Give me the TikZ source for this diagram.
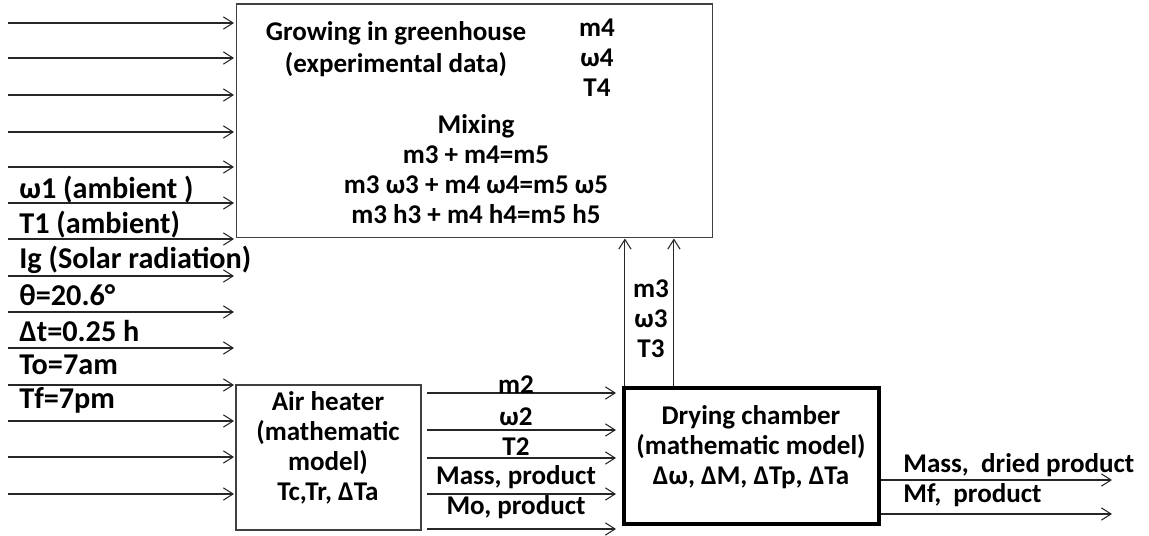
\documentclass[tikz,border=0pt]{standalone}
\usepackage{fontspec}
\setmainfont{Carlito}
\usetikzlibrary{arrows.meta}
\usetikzlibrary{positioning}

\tikzset{
  block/.style={draw=black!75, line width=0.6pt, inner sep=0pt},
  flow/.style={draw=black!85, line width=0.6pt, -{Straight Barb[length=5.5pt,width=7pt]}},
  txt/.style={inner sep=0pt, align=center, font=\fontsize{15.4}{17.2}\selectfont\bfseries},
  sidetxt/.style={inner sep=0pt, anchor=west, font=\fontsize{17.2}{20}\selectfont\bfseries},
}

\begin{document}
\begin{tikzpicture}[x=0.02cm, y=-0.02cm]
  \useasboundingbox (0,0) rectangle (1149,536);
  % blocks
  \node[block, minimum width=9.54cm, minimum height=4.68cm] (gh) at (474.5,121) {};
  \node[block, minimum width=3.7cm, minimum height=2.9cm] (heat) at (328.5,457.5) {};
  \node[block, draw=black, line width=2.4pt, minimum width=5.1cm, minimum height=2.72cm] (dry) at (751.5,456) {};

  % greenhouse texts
  \node[txt, font=\fontsize{15.4}{18.2}\selectfont\bfseries] (ghname) at (396,49) {Growing in greenhouse\\(experimental data)};
  \node[txt] (ghout) at (597,58) {m4\\ω4\\T4};
  \node[txt] (mix) at (476,169) {Mixing\\m3 + m4=m5\\m3 ω3 + m4 ω4=m5 ω5\\m3 h3 + m4 h4=m5 h5};
  \node[txt] (heatname) at (328,448) {Air heater\\(mathematic\\model)\\Tc,Tr, ΔTa};
  \node[txt] (dryname) at (751,447) {Drying chamber\\(mathematic model)\\Δω, ΔM, ΔTp, ΔTa};

  % inputs on the left
  \foreach \y [count=\i] in {23,58,95,132,167,203,239,276,312,348,385,421,457,494}{
    \coordinate (src\i) at (8,\y);
    \coordinate (dst\i) at (234,\y);
    \draw[flow] (src\i) -- (dst\i);
  }
  \node[sidetxt] (w1) at (19,190) {ω1 (ambient )};
  \node[sidetxt] (t1) at (19,225) {T1 (ambient)};
  \node[sidetxt] (ig) at (19,260) {Ig (Solar radiation)};
  \node[sidetxt] (theta) at (19,295) {θ=20.6°};
  \node[sidetxt] (dt) at (19,331) {Δt=0.25 h};
  \node[sidetxt] (to) at (19,365) {To=7am};
  \node[sidetxt] (tf) at (19,400) {Tf=7pm};

  % heater to chamber
  \foreach \y [count=\i] in {393,430,458,494,529}{
    \coordinate (hout\i) at (427,\y);
    \coordinate (din\i) at (616,\y);
    \draw[flow] (hout\i) -- (din\i);
  }
  \node[txt] (m2) at (516,385) {m2};
  \node[txt] (w2) at (516,417) {ω2};
  \node[txt] (t2) at (516,447) {T2};
  \node[txt] (mass) at (516,477) {Mass, product};
  \node[txt] (mo) at (516,507) {Mo, product};

  % chamber back to greenhouse
  \draw[flow] ([xshift=0.06cm]dry.north west) -- ([xshift=0.06cm]dry.north west |- gh.south);
  \draw[flow] ([xshift=1.04cm]dry.north west) -- ([xshift=1.04cm]dry.north west |- gh.south);
  \node[txt] (back) at (651,319) {m3\\ω3\\T3};

  % outputs
  \coordinate (out1) at (1112,480);
  \coordinate (out2) at (1112,514);
  \draw[flow] (dry.east |- out1) -- (out1);
  \draw[flow] (dry.east |- out2) -- (out2);
  \node[txt, anchor=west] (dried) at (903,465) {Mass,~ dried product};
  \node[txt, anchor=west] (mf) at (903,495) {Mf,~ product};
\end{tikzpicture}
\end{document}
